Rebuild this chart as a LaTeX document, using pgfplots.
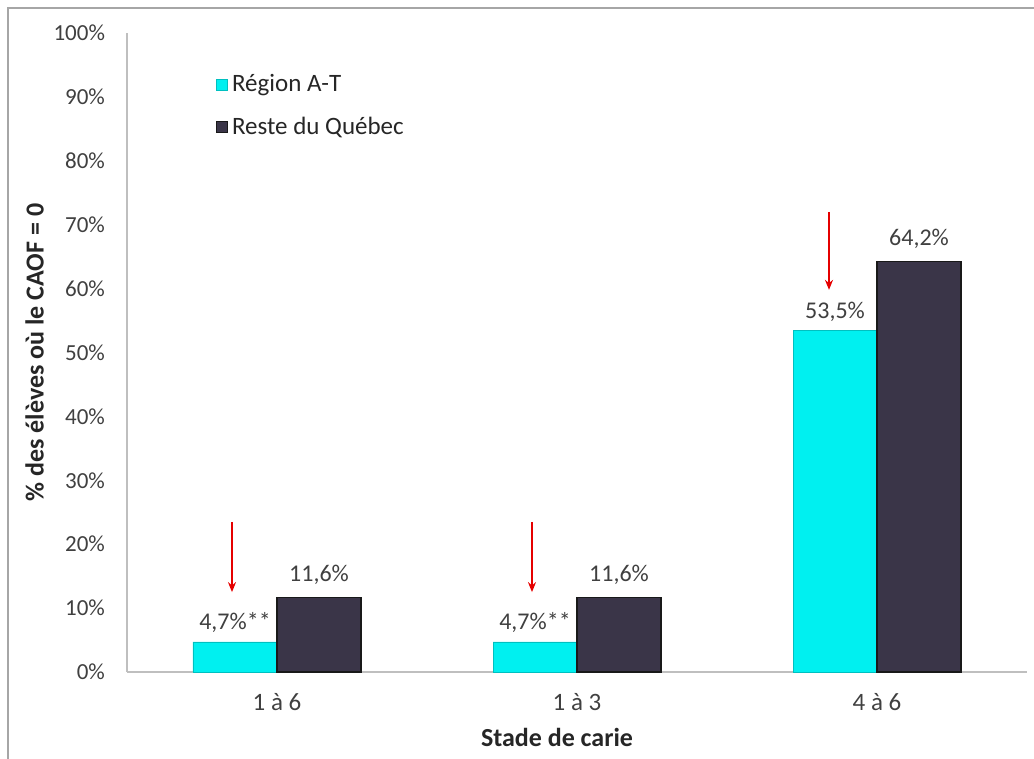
\documentclass[border=0pt]{standalone}
\usepackage{fontspec}
\setmainfont{Carlito}
\usepackage{pgfplots}
\pgfplotsset{compat=1.18}
\usetikzlibrary{arrows.meta}
\definecolor{cyanbar}{RGB}{0,240,240}
\definecolor{darkbar}{RGB}{58,53,72}
\definecolor{txt}{RGB}{64,64,64}
\begin{document}
\begin{tikzpicture}
\useasboundingbox (-63.5pt,-43.5pt) rectangle (453.5pt,336pt);
\draw[gray!70, line width=0.8pt] (-59.5pt,-60pt) -- (-59.5pt,332pt) -- (470pt,332pt);
\begin{axis}[
  at={(0pt,0pt)}, anchor=south west,
  scale only axis, width=450pt, height=319.5pt,
  xmin=-0.5, xmax=2.5, ymin=0, ymax=100,
  axis x line*=bottom, axis y line*=left,
  axis line style={gray!50, line width=0.6pt},
  x axis line style={-}, y axis line style={-},
  xtick={0,1,2}, xticklabels={1 à 6, 1 à 3, 4 à 6},
  ytick={0,10,...,100},
  yticklabel={\pgfmathprintnumber{\tick}\%},
  /pgf/number format/assume math mode=true,
  major tick length=0pt,
  tick label style={font=\fontsize{11.5}{13}\selectfont, text=txt},
  xticklabel style={yshift=-7pt, font=\fontsize{12.5}{14}\selectfont},
  yticklabel style={xshift=-7.5pt},
  xlabel={\textbf{Stade de carie}},
  ylabel={\textbf{\% des élèves où le CAOF = 0}},
  label style={font=\fontsize{13}{15}\selectfont, text=black!85},
  xlabel style={yshift=-2pt, xshift=-10pt},
  ylabel style={yshift=-2pt},
  legend style={draw=none, fill=none, at={(0.098,0.942)}, anchor=north west,
    font=\fontsize{12.5}{14}\selectfont, text=black!85,
    row sep=7pt, inner sep=0pt},
  legend cell align=left,
  legend image code/.code={\fill[#1] (0pt,-2.8pt) rectangle (5.6pt,2.8pt);},
  clip=false,
]
\addplot[ybar, bar width=0.28, bar shift=0pt, fill=cyanbar, draw=cyanbar!80!black, line width=0.3pt,
  point meta=explicit symbolic,
  nodes near coords, nodes near coords style={font=\fontsize{12}{14}\selectfont, text=txt, yshift=1pt}]
  table[x=x, y=y, meta=lbl] {
x y lbl
-0.14 4.7 4,7\%**
0.86 4.7 4,7\%**
1.86 53.5 53,5\%
};
\addlegendentry{Région A-T}
\addplot[ybar, bar width=0.28, bar shift=0pt, fill=darkbar, draw=black!90, line width=0.6pt,
  point meta=explicit symbolic,
  nodes near coords, nodes near coords style={font=\fontsize{12}{14}\selectfont, text=txt, yshift=3pt}]
  table[x=x, y=y, meta=lbl] {
x y lbl
0.14 11.6 11,6\%
1.14 11.6 11,6\%
2.14 64.2 64,2\%
};
\addlegendentry{Reste du Québec}
\addplot[quiver={u=0, v=\thisrow{v}}, -{Stealth[length=5pt, width=4pt]}, red!90!black, line width=1pt, forget plot]
  table[x=x, y=y] {
x y v
-0.15 23.5 -11.0
0.85 23.5 -11.0
1.84 72.0 -12.2
};
\end{axis}
\end{tikzpicture}
\end{document}
